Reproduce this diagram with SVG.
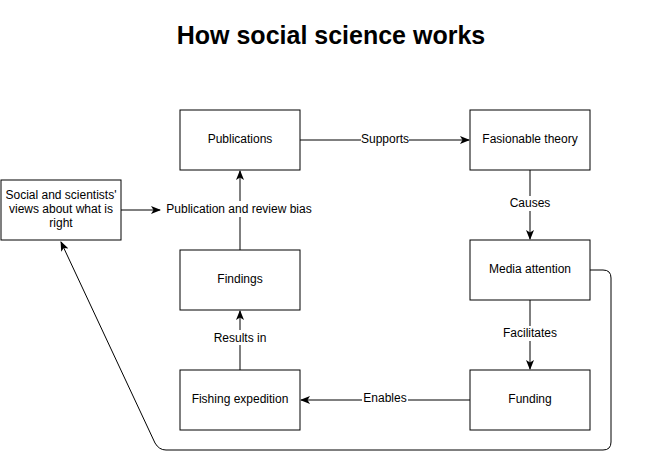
<svg xmlns="http://www.w3.org/2000/svg" width="661" height="459" viewBox="0 0 661 459">
<defs>
<marker id="arr" viewBox="0 0 10 10" refX="9" refY="5" markerWidth="10" markerHeight="10" markerUnits="userSpaceOnUse" orient="auto">
<path d="M0,1 L10,5 L0,9 L2.5,5 Z" fill="#000"/>
</marker>
</defs>
<style>
.box{fill:#fff;stroke:#000;stroke-width:1}
.t{font-family:"Liberation Sans",Arial,sans-serif;font-size:12px;fill:#000;text-anchor:middle;dominant-baseline:central}
.e{fill:none;stroke:#000;stroke-width:1}
.lbl{fill:#fff}
</style>
<rect width="661" height="459" fill="#fff"/>
<text x="331" y="35" font-family="Liberation Sans,Arial,sans-serif" font-size="25" font-weight="bold" text-anchor="middle" dominant-baseline="central">How social science works</text>
<g id="connectors">
<path class="e" d="M300,140 H469" marker-end="url(#arr)"/>
<rect class="lbl" x="361" y="132" width="48" height="15"/>
<text class="t" x="385" y="139">Supports</text>
<path class="e" d="M530,170 V239" marker-end="url(#arr)"/>
<rect class="lbl" x="507" y="196" width="46" height="15"/>
<text class="t" x="530" y="203">Causes</text>
<path class="e" d="M530,300 V369" marker-end="url(#arr)"/>
<rect class="lbl" x="501" y="326" width="58" height="15"/>
<text class="t" x="530" y="333">Facilitates</text>
<path class="e" d="M470,400 H301" marker-end="url(#arr)"/>
<rect class="lbl" x="362" y="391" width="46" height="15"/>
<text class="t" x="385" y="398">Enables</text>
<path class="e" d="M240,370 V311" marker-end="url(#arr)"/>
<rect class="lbl" x="211" y="330" width="58" height="15"/>
<text class="t" x="240" y="338">Results in</text>
<path class="e" d="M240,250 V171" marker-end="url(#arr)"/>
<rect class="lbl" x="163" y="201" width="153" height="16"/>
<text class="t" x="239" y="209">Publication and review bias</text>
<path class="e" d="M121,210 H160" marker-end="url(#arr)"/>
<path class="e" d="M590,270 H603 Q611,270 611,278 V442 Q611,450 603,450 H166 Q159,450 155,443 L61,242" marker-end="url(#arr)"/>
</g>
<g id="publications"><rect class="box" x="180" y="110" width="120" height="60"/><text class="t" x="240" y="139">Publications</text></g>
<g id="fasionable"><rect class="box" x="470" y="110" width="120" height="60"/><text class="t" x="530" y="139">Fasionable theory</text></g>
<g id="media"><rect class="box" x="470" y="240" width="120" height="60"/><text class="t" x="530" y="269">Media attention</text></g>
<g id="funding"><rect class="box" x="470" y="370" width="120" height="60"/><text class="t" x="530" y="399">Funding</text></g>
<g id="fishing"><rect class="box" x="180" y="370" width="120" height="60"/><text class="t" x="240" y="399">Fishing expedition</text></g>
<g id="findings"><rect class="box" x="180" y="250" width="120" height="60"/><text class="t" x="240" y="279">Findings</text></g>
<g id="social"><rect class="box" x="1" y="180" width="120" height="60"/>
<text class="t" x="61" y="195">Social and scientists'</text>
<text class="t" x="61" y="209">views about what is</text>
<text class="t" x="61" y="223">right</text></g>
</svg>
